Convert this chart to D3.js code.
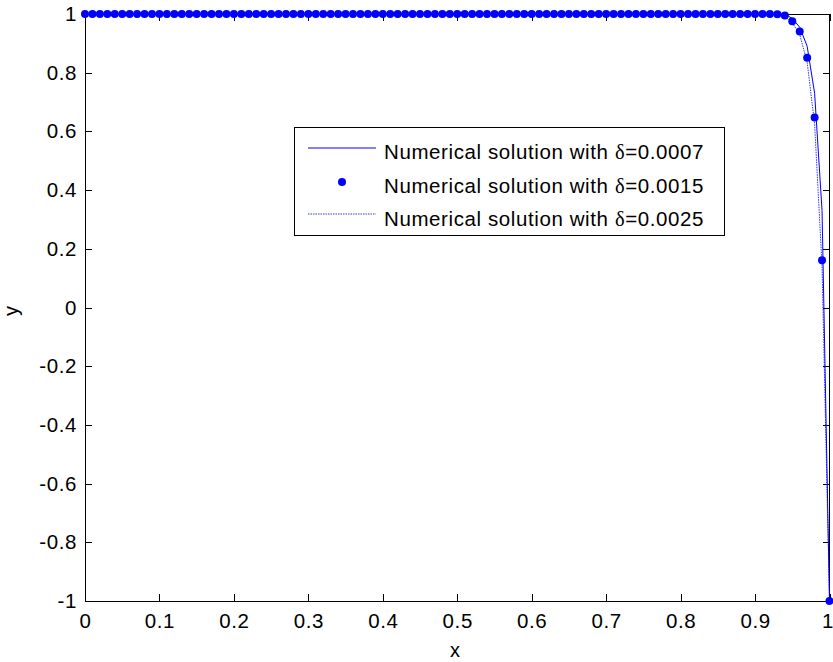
<!DOCTYPE html>
<html><head><meta charset="utf-8">
<script src="https://cdn.jsdelivr.net/npm/d3@7"></script>
<style>
body{margin:0;background:#fff}
svg{display:block}
text{font-family:"Liberation Sans",Arial,sans-serif;fill:#000}
</style>
</head><body>
<svg id="c" width="833" height="662"></svg>
<script>
const xValues=[0,0.01,0.02,0.03,0.04,0.05,0.06,0.07,0.08,0.09,
0.1,0.11,0.12,0.13,0.14,0.15,0.16,0.17,0.18,0.19,
0.2,0.21,0.22,0.23,0.24,0.25,0.26,0.27,0.28,0.29,
0.3,0.31,0.32,0.33,0.34,0.35,0.36,0.37,0.38,0.39,
0.4,0.41,0.42,0.43,0.44,0.45,0.46,0.47,0.48,0.49,
0.5,0.51,0.52,0.53,0.54,0.55,0.56,0.57,0.58,0.59,
0.6,0.61,0.62,0.63,0.64,0.65,0.66,0.67,0.68,0.69,
0.7,0.71,0.72,0.73,0.74,0.75,0.76,0.77,0.78,0.79,
0.8,0.81,0.82,0.83,0.84,0.85,0.86,0.87,0.88,0.89,
0.9,0.91,0.92,0.93,0.94,0.95,0.96,0.97,0.98,0.99,1];
// delta = 0.0007 (solid line)
const yDelta0007=[1,1,1,1,1,1,1,1,1,1,
1,1,1,1,1,1,1,1,1,1,
1,1,1,1,1,1,1,1,1,1,
1,1,1,1,1,1,1,1,1,1,
1,1,1,1,1,1,1,1,1,1,
1,1,1,1,1,1,1,1,1,1,
1,1,1,1,1,1,1,1,1,1,
1,1,1,1,1,1,1,1,1,1,
1,1,1,1,1,1,1,1,1,1,
1,1,1,1,0.999,0.985,0.955,0.89,0.73,0.33,-1];
// delta = 0.0015 (dots)
const yDelta0015=[1,1,1,1,1,1,1,1,1,1,
1,1,1,1,1,1,1,1,1,1,
1,1,1,1,1,1,1,1,1,1,
1,1,1,1,1,1,1,1,1,1,
1,1,1,1,1,1,1,1,1,1,
1,1,1,1,1,1,1,1,1,1,
1,1,1,1,1,1,1,1,1,1,
1,1,1,1,1,1,1,1,1,1,
1,1,1,1,1,1,1,1,1,1,
1,1,1,0.999,0.995,0.975,0.94,0.851,0.647,0.161,-1];
// delta = 0.0025 (dotted line)
const yDelta0025=[1,1,1,1,1,1,1,1,1,1,
1,1,1,1,1,1,1,1,1,1,
1,1,1,1,1,1,1,1,1,1,
1,1,1,1,1,1,1,1,1,1,
1,1,1,1,1,1,1,1,1,1,
1,1,1,1,1,1,1,1,1,1,
1,1,1,1,1,1,1,1,1,1,
1,1,1,1,1,1,1,1,1,1,
1,1,1,1,1,1,1,1,1,1,
1,1,1,0.998,0.992,0.97,0.93,0.835,0.625,0.14,-1];
const xTicks=[0,0.1,0.2,0.3,0.4,0.5,0.6,0.7,0.8,0.9,1];
const xTickLabels=["0","0.1","0.2","0.3","0.4","0.5","0.6","0.7","0.8","0.9","1"];
const yTicks=[-1,-0.8,-0.6,-0.4,-0.2,0,0.2,0.4,0.6,0.8,1];
const yTickLabels=["-1","-0.8","-0.6","-0.4","-0.2","0","0.2","0.4","0.6","0.8","1"];
const legendPrefix="Numerical solution with ";
const legendDeltas=["=0.0007","=0.0015","=0.0025"];
const xLabel="x", yLabel="y";

const svg=d3.select("#c");
const L=85,R=829.5,T=14,B=601;
const x=d3.scaleLinear().domain([0,1]).range([L,R]);
const y=d3.scaleLinear().domain([-1,1]).range([B,T]);
const FS="20.5px", LS="0.6px";
const blue="#0000ff";

function styleAxis(g){
  g.select(".domain").remove();
  g.selectAll(".tick line").attr("stroke","#000").attr("shape-rendering","crispEdges");
  g.selectAll("text").attr("font-family",null).style("font-size",FS).style("letter-spacing",LS).attr("fill","#000");
}
const xAxisG=svg.append("g").attr("transform",`translate(0,${B})`)
  .call(d3.axisBottom(x).tickValues(xTicks).tickFormat((d,i)=>xTickLabels[i]).tickSizeInner(-7).tickSizeOuter(0).tickPadding(12.5))
  .call(styleAxis);
// keep the last label (at the right edge) fully inside the picture
xAxisG.selectAll(".tick text").filter(d=>d===1)
  .attr("text-anchor","end").attr("x",833-R).style("letter-spacing","0px");
svg.append("g").attr("transform",`translate(${L},0)`)
  .call(d3.axisLeft(y).tickValues(yTicks).tickFormat((d,i)=>yTickLabels[i]).tickSizeInner(-7).tickSizeOuter(0).tickPadding(8))
  .call(styleAxis);
svg.append("g").attr("transform",`translate(0,${T})`)
  .call(d3.axisTop(x).tickValues(xTicks).tickFormat("").tickSizeInner(-7).tickSizeOuter(0))
  .call(styleAxis);
svg.append("g").attr("transform",`translate(${R},0)`)
  .call(d3.axisRight(y).tickValues(yTicks).tickFormat("").tickSizeInner(-7).tickSizeOuter(0))
  .call(styleAxis);
svg.append("rect").attr("x",L).attr("y",T).attr("width",R-L).attr("height",B-T)
  .attr("fill","none").attr("stroke","#000").attr("stroke-width",1).attr("shape-rendering","crispEdges");

svg.append("text").attr("x",455).attr("y",657).attr("text-anchor","middle").style("font-size","20px").text(xLabel);
svg.append("text").attr("transform","translate(18,311) rotate(-90)").attr("text-anchor","middle").style("font-size","20px").text(yLabel);

const line=d3.line().x((d,i)=>x(xValues[i])).y(d=>y(d));
svg.append("path").datum(yDelta0025).attr("d",line).attr("fill","none").attr("stroke",blue).attr("stroke-width",1).attr("stroke-dasharray","1.5,1").attr("opacity",0.8);
svg.append("path").datum(yDelta0007).attr("d",line).attr("fill","none").attr("stroke",blue).attr("stroke-width",1);
svg.append("g").selectAll("circle").data(yDelta0015).join("circle")
  .attr("cx",(d,i)=>x(xValues[i])).attr("cy",d=>y(d)).attr("r",4).attr("fill",blue);

// legend
const lg=svg.append("g");
lg.append("rect").attr("x",294.5).attr("y",127.5).attr("width",430).attr("height",108)
  .attr("fill","#fff").attr("stroke","#000").attr("stroke-width",1);
const rowY=[148,182,214];
const baseY=[159,192.5,226];
lg.append("line").attr("x1",308).attr("x2",376).attr("y1",rowY[0]).attr("y2",rowY[0]).attr("stroke",blue).attr("stroke-width",1);
lg.append("circle").attr("cx",342).attr("cy",rowY[1]).attr("r",4).attr("fill",blue);
lg.append("line").attr("x1",308).attr("x2",376).attr("y1",rowY[2]).attr("y2",rowY[2]).attr("stroke",blue).attr("stroke-width",1).attr("stroke-dasharray","1.5,1").attr("opacity",0.8);
legendDeltas.forEach((s,i)=>{
  const t=lg.append("text").attr("x",384).attr("y",baseY[i]).style("font-size",FS).style("letter-spacing",LS);
  t.append("tspan").text(legendPrefix);
  t.append("tspan").style("font-family","'Liberation Serif','Times New Roman',serif").text("δ");
  t.append("tspan").text(s);
});
</script>
</body></html>
